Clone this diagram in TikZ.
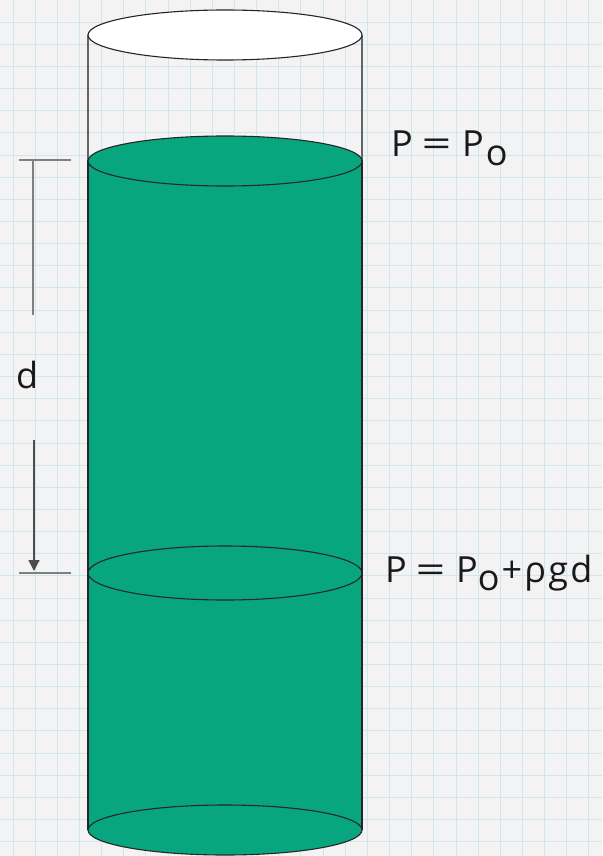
\documentclass[tikz,border=0pt]{standalone}
\usepackage{fontspec}
\setmainfont{Open Sans}
\usetikzlibrary{arrows.meta}
\definecolor{bgc}{HTML}{F3F3F3}
\definecolor{gridc}{HTML}{CFE6EE}
\definecolor{liquid}{HTML}{08A67E}
\definecolor{dimc}{HTML}{7F7F7F}
\tikzset{
  lbl/.style={font=\fontsize{36}{40}\selectfont, text=black!90, inner sep=0pt, anchor=base west},
  rim/.style={draw=black!85, line width=1.1pt},
  dimline/.style={draw=dimc, line width=1.4pt},
}
\newcommand{\lowo}{\raisebox{-0.24em}{o}}
\newcommand{\weq}{\hspace{0.24em}\scalebox{1.45}[1]{=}\hspace{0.3em}}
\newcommand{\ls}{\hspace{0.06em}}
\begin{document}
\begin{tikzpicture}[x=1pt,y=-1pt]
\useasboundingbox (0,0) rectangle (602,856);
% background grid
\fill[bgc] (0,0) rectangle (602,856);
\foreach \i in {0,...,27} {
  \draw[gridc, line width=1pt] ({13+22.15*\i},0) -- ({13+22.15*\i},856);
}
\foreach \j in {1,...,38} {
  \draw[gridc, line width=1pt] (0,{22.15*\j}) -- (602,{22.15*\j});
}
% empty upper part of cylinder
\draw[dimc!80!black, line width=1.2pt] (88,35) -- (88,160);
\draw[dimc!80!black, line width=1.2pt] (362,35) -- (362,160);
\draw[rim, fill=white] (225,35) ellipse [x radius=137, y radius=25];
% liquid body
\fill[liquid] (88,160) -- (88,830) arc[start angle=180, end angle=360, x radius=137, y radius=25] -- (362,160) -- cycle;
\draw[rim] (88,160) -- (88,830);
\draw[rim] (362,160) -- (362,830);
\draw[rim, fill=liquid] (225,830) ellipse [x radius=137, y radius=25];
\draw[rim] (225,573) ellipse [x radius=137, y radius=27];
\draw[rim, fill=liquid] (225,161) ellipse [x radius=137, y radius=25];
% dimension
\coordinate (t1) at (19,160); \coordinate (t2) at (71,160);
\coordinate (b1) at (19,573); \coordinate (b2) at (71,573);
\coordinate (v1) at (33,160); \coordinate (v2) at (33,315);
\coordinate (v3) at (34,440); \coordinate (v4) at (34,571);
\draw[dimline] (t1) -- (t2);
\draw[dimline] (b1) -- (b2);
\draw[dimline] (v1) -- (v2);
\draw[dimline, -{Stealth[length=11pt,width=11pt,inset=0pt]}, draw=dimc!60!black] (v3) -- (v4);
\node[lbl] (d) at (16,388) {d};
% labels
\node[lbl] (p1) at (391,157) {P\weq P\ls\lowo};
\node[lbl] (p2) at (385,582) {P\weq P\lowo\ls+\ls ρ\ls g\ls d};
\end{tikzpicture}
\end{document}
